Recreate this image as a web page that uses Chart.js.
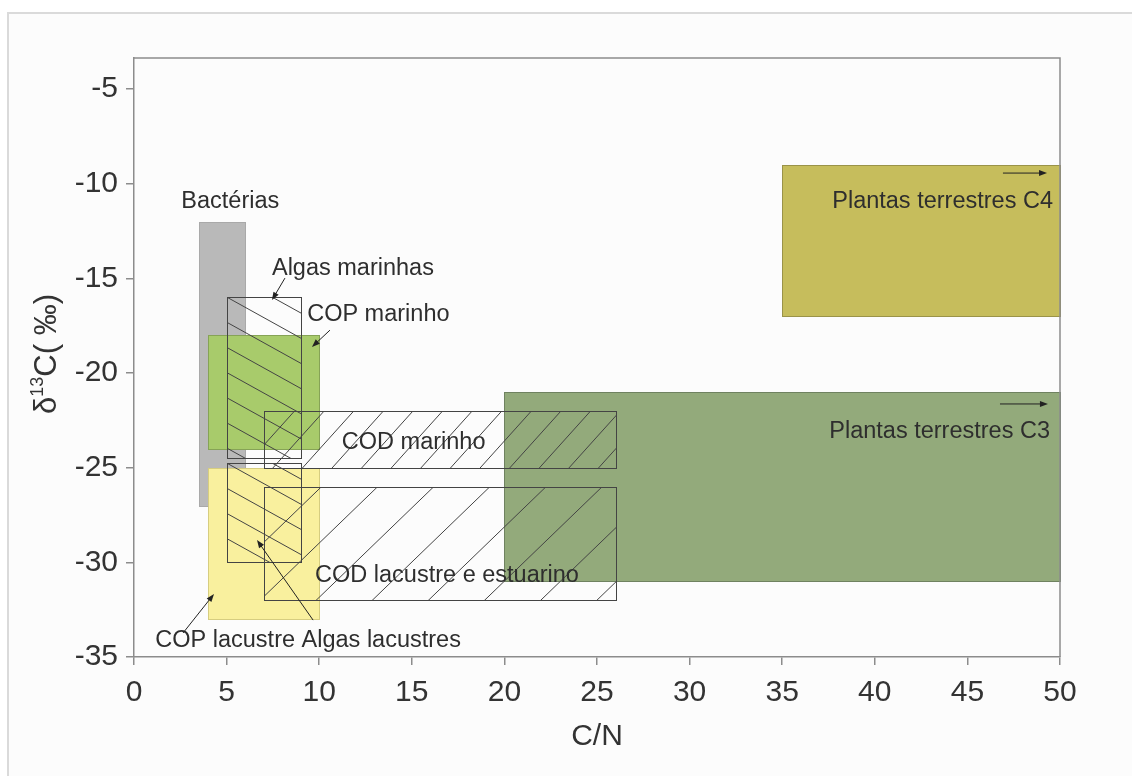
<!DOCTYPE html>
<html>
<head>
<meta charset="utf-8">
<script src="https://cdn.jsdelivr.net/npm/chart.js@4.4.1/dist/chart.umd.min.js"></script>
<style>
  html, body { margin: 0; padding: 0; background: #ffffff; }
  #wrap { position: relative; width: 1132px; height: 776px; overflow: hidden; }
  #frame { position: absolute; left: 7px; top: 12px; right: -4px; bottom: -4px;
           border-left: 2px solid #dadada; border-top: 2px solid #dadada; background: #fcfcfc; }
  #c { position: absolute; left: 0; top: 0; }
</style>
</head>
<body>
<div id="wrap">
  <div id="frame"></div>
  <canvas id="c" width="1132" height="776"></canvas>
</div>
<script>
// Axis ticks
const xTickValues = [0, 5, 10, 15, 20, 25, 30, 35, 40, 45, 50];
const yTickValues = [-35, -30, -25, -20, -15, -10, -5];
const xRange = [0, 50];
const yRange = [-35, -3.35];

// Source groups (drawn in this order): C/N range and δ13C range
const groups  = ['Bactérias', 'COP marinho', 'COP lacustre', 'Plantas terrestres C3', 'Plantas terrestres C4',
                 'Algas marinhas', 'Algas lacustres', 'COD marinho', 'COD lacustre e estuarino'];
const cnMin   = [3.5,   4,   4,  20,  35,   5,     5,      7,   7];
const cnMax   = [6,    10,  10,  50,  50,   9,     9,     26,  26];
const d13cMin = [-27, -24, -33, -31, -17, -24.5, -30,    -25, -32];
const d13cMax = [-12, -18, -25, -21,  -9, -16,   -24.75, -22, -26];

// Annotation texts and where they sit (C/N, δ13C)
const noteText  = ['Bactérias', 'Algas marinhas', 'COP marinho', 'COD marinho', 'COD lacustre e estuarino',
                   'COP lacustre Algas lacustres', 'Plantas terrestres C4', 'Plantas terrestres C3'];
const noteCN    = [5.2, 7.45, 9.35, 15.1, 16.9, 1.15, 49.62, 49.46];
const noteD13C  = [-10.95, -14.45, -16.9, -23.65, -30.7, -34.15, -10.95, -23.1];
const noteAlign = ['center', 'left', 'left', 'center', 'center', 'left', 'right', 'right'];

// Leader arrows: from (C/N, δ13C) to (C/N, δ13C), head at the end
const arrowFrom = [[8.15, -14.98], [10.58, -17.73], [2.65, -33.73], [9.67, -33.05], [46.92, -9.43], [46.76, -21.63]];
const arrowTo   = [[7.45, -16.14], [9.61, -18.62],  [4.32, -31.67], [6.64, -28.82], [49.3, -9.43],  [49.35, -21.63]];

const FONT = '"Liberation Sans", Arial, Helvetica, sans-serif';

const groupStyle = {
  'Bactérias':               { fill: '#b9b9b9', stroke: '#a9a9a9' },
  'COP marinho':             { fill: '#a8cb6b', stroke: '#86a356' },
  'COP lacustre':            { fill: '#f9f09e', stroke: '#d6cd80' },
  'Plantas terrestres C3':   { fill: '#93aa7b', stroke: '#6f8260' },
  'Plantas terrestres C4':   { fill: '#c6bd5c', stroke: '#9a9349' },
  'Algas marinhas':          { hatch: { angle: 29,  gap: 22 }, stroke: '#444444' },
  'Algas lacustres':         { hatch: { angle: 29,  gap: 22 }, stroke: '#444444' },
  'COD marinho':             { hatch: { angle: -48, gap: 22 }, stroke: '#444444' },
  'COD lacustre e estuarino':{ hatch: { angle: -44, gap: 39 }, stroke: '#444444' }
};

const datasets = groups.map((g, i) => ({
  label: g,
  data: [{ x: cnMin[i], y: d13cMin[i] }, { x: cnMax[i], y: d13cMax[i] }],
  showLine: false,
  pointRadius: 0,
  pointHoverRadius: 0
}));

function hatchRect(ctx, x, y, w, h, angleDeg, gap, color) {
  ctx.save();
  ctx.beginPath();
  ctx.rect(x, y, w, h);
  ctx.clip();
  const a = angleDeg * Math.PI / 180;
  const dx = Math.cos(a), dy = Math.sin(a);
  const nx = -dy, ny = dx;
  const corners = [[0, 0], [w, 0], [0, h], [w, h]];
  const proj = corners.map(([px, py]) => px * nx + py * ny);
  const lo = Math.min(...proj), hi = Math.max(...proj);
  const L = w + h;
  ctx.strokeStyle = color;
  ctx.lineWidth = 1;
  ctx.beginPath();
  for (let o = Math.ceil(lo / gap) * gap; o <= hi; o += gap) {
    const cx = x + nx * o, cy = y + ny * o;
    ctx.moveTo(cx - dx * L, cy - dy * L);
    ctx.lineTo(cx + dx * L, cy + dy * L);
  }
  ctx.stroke();
  ctx.restore();
}

function arrow(ctx, x0, y0, x1, y1) {
  const ang = Math.atan2(y1 - y0, x1 - x0);
  const len = 8, half = 3;
  ctx.beginPath();
  ctx.moveTo(x0, y0);
  ctx.lineTo(x1 - Math.cos(ang) * len * 0.7, y1 - Math.sin(ang) * len * 0.7);
  ctx.stroke();
  ctx.beginPath();
  ctx.moveTo(x1, y1);
  ctx.lineTo(x1 - Math.cos(ang) * len - Math.sin(ang) * half, y1 - Math.sin(ang) * len + Math.cos(ang) * half);
  ctx.lineTo(x1 - Math.cos(ang) * len + Math.sin(ang) * half, y1 - Math.sin(ang) * len - Math.cos(ang) * half);
  ctx.closePath();
  ctx.fill();
}

const rangeBoxes = {
  id: 'rangeBoxes',
  beforeDatasetsDraw(chart) {
    const { ctx } = chart;
    chart.data.datasets.forEach((ds, i) => {
      const pts = chart.getDatasetMeta(i).data;
      const xa = Math.round(Math.min(pts[0].x, pts[1].x)) + 0.5;
      const xb = Math.round(Math.max(pts[0].x, pts[1].x)) + 0.5;
      const ya = Math.round(Math.min(pts[0].y, pts[1].y)) + 0.5;
      const yb = Math.round(Math.max(pts[0].y, pts[1].y)) + 0.5;
      const st = groupStyle[ds.label];
      ctx.save();
      if (st.fill) {
        ctx.fillStyle = st.fill;
        ctx.fillRect(xa, ya, xb - xa, yb - ya);
      }
      if (st.hatch) {
        hatchRect(ctx, xa, ya, xb - xa, yb - ya, st.hatch.angle, st.hatch.gap, st.stroke);
      }
      ctx.strokeStyle = st.stroke;
      ctx.lineWidth = 1;
      ctx.strokeRect(xa, ya, xb - xa, yb - ya);
      ctx.restore();
    });
  },
  afterDatasetsDraw(chart) {
    const { ctx, scales: { x, y }, chartArea } = chart;
    ctx.save();
    // plot frame (top and right sides)
    ctx.strokeStyle = '#8c8c8c';
    ctx.lineWidth = 1.5;
    ctx.beginPath();
    ctx.moveTo(chartArea.left, chartArea.top);
    ctx.lineTo(chartArea.right, chartArea.top);
    ctx.lineTo(chartArea.right, chartArea.bottom);
    ctx.stroke();

    // annotation texts
    ctx.fillStyle = '#2e2e2e';
    ctx.font = '23.5px ' + FONT;
    ctx.textBaseline = 'middle';
    noteText.forEach((t, i) => {
      ctx.textAlign = noteAlign[i];
      ctx.fillText(t, x.getPixelForValue(noteCN[i]), y.getPixelForValue(noteD13C[i]));
    });

    // leader arrows
    ctx.strokeStyle = '#222222';
    ctx.fillStyle = '#222222';
    ctx.lineWidth = 1;
    arrowFrom.forEach((f, i) => {
      const t = arrowTo[i];
      arrow(ctx, x.getPixelForValue(f[0]), y.getPixelForValue(f[1]),
                 x.getPixelForValue(t[0]), y.getPixelForValue(t[1]));
    });

    // axis titles
    ctx.fillStyle = '#333333';
    ctx.textBaseline = 'middle';
    ctx.textAlign = 'center';
    ctx.font = '30px ' + FONT;
    ctx.fillText('C/N', (chartArea.left + chartArea.right) / 2, 737);

    ctx.translate(47, 354);
    ctx.rotate(-Math.PI / 2);
    const parts = [
      { t: 'δ', f: '31px ' + FONT, dy: 0 },
      { t: '13', f: '18px ' + FONT, dy: -9 },
      { t: 'C( ‰)', f: '31px ' + FONT, dy: 0 }
    ];
    let total = 0;
    parts.forEach(p => { ctx.font = p.f; p.w = ctx.measureText(p.t).width; total += p.w; });
    let cx = -total / 2;
    ctx.textAlign = 'left';
    parts.forEach(p => { ctx.font = p.f; ctx.fillText(p.t, cx, p.dy); cx += p.w; });
    ctx.restore();
  }
};

const tickFont = { family: FONT, size: 30 };

new Chart(document.getElementById('c'), {
  type: 'scatter',
  data: { datasets },
  options: {
    responsive: false,
    animation: false,
    devicePixelRatio: 1,
    layout: { padding: { left: 0, top: 58, right: 72, bottom: 0 } },
    plugins: { legend: { display: false }, tooltip: { enabled: false } },
    events: [],
    scales: {
      x: {
        type: 'linear',
        min: xRange[0], max: xRange[1],
        afterFit: s => { s.height = 776 - 657; },
        afterBuildTicks: s => { s.ticks = xTickValues.map(v => ({ value: v })); },
        ticks: { font: tickFont, color: '#333333', padding: 10, maxRotation: 0, autoSkip: false },
        grid: { drawOnChartArea: false, drawTicks: true, tickLength: 8, color: '#8c8c8c', lineWidth: 1.5 },
        border: { display: true, color: '#8c8c8c', width: 1.5 }
      },
      y: {
        type: 'linear',
        min: yRange[0], max: yRange[1],
        afterFit: s => { s.width = 134; },
        afterBuildTicks: s => { s.ticks = yTickValues.map(v => ({ value: v })); },
        ticks: { font: tickFont, color: '#333333', padding: 8, autoSkip: false },
        grid: { drawOnChartArea: false, drawTicks: true, tickLength: 8, color: '#8c8c8c', lineWidth: 1.5 },
        border: { display: true, color: '#8c8c8c', width: 1.5 }
      }
    }
  },
  plugins: [rangeBoxes]
});
</script>
</body>
</html>
